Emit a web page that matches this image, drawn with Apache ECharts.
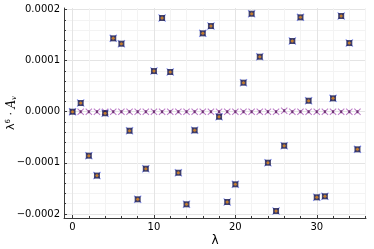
<!DOCTYPE html>
<html><head><meta charset="utf-8">
<script src="https://cdn.jsdelivr.net/npm/echarts@6/dist/echarts.min.js"></script>
<style>html,body{margin:0;padding:0;background:#fff}#c{width:374px;height:249px}</style>
</head><body><div id="c"></div>
<script>
const lambdas = [0,1,2,3,4,5,6,7,8,9,10,11,12,13,14,15,16,17,18,19,20,21,22,23,24,25,26,27,28,29,30,31,32,33,34,35];
const valuesA = [0, 1.7e-5, -8.6e-5, -1.25e-4, -3e-6, 1.436e-4, 1.331e-4, -3.72e-5, -1.714e-4, -1.115e-4,
  7.96e-5, 1.834e-4, 7.77e-5, -1.194e-4, -1.812e-4, -3.64e-5, 1.534e-4, 1.677e-4, -9.8e-6, -1.767e-4,
  -1.421e-4, 5.68e-5, 1.918e-4, 1.076e-4, -9.98e-5, -1.943e-4, -6.65e-5, 1.384e-4, 1.847e-4, 2.15e-5,
  -1.675e-4, -1.656e-4, 2.62e-5, 1.873e-4, 1.344e-4, -7.36e-5];
const valuesB = [0,0,0,0,0,0,0,0,0,0,0,0,0,0,0,0,0,0,0,0,0,0,0,0,0,0,2e-6,0,0,0,0,0,0,0,0,0];
const xTicks = [0, 10, 20, 30];
const xMinorTicks = [2,4,6,8,12,14,16,18,22,24,26,28,32,34,36];
const yTicks = [-0.0002, -0.0001, 0, 0.0001, 0.0002];
const yMinorTicks = [-0.00018,-0.00016,-0.00014,-0.00012,-0.00008,-0.00006,-0.00004,-0.00002,
  0.00002,0.00004,0.00006,0.00008,0.00012,0.00014,0.00016,0.00018];
const xRange = [-1.05, 36.05];
const yRange = [-0.000208, 0.000203];

const XPATH = 'path://M0,1L1,0L5,4L9,0L10,1L6,5L10,9L9,10L5,6L1,10L0,9L4,5Z';
const pairs = (ys) => lambdas.map((x, i) => [x, ys[i]]);
const font = 'DejaVu Sans';
const axisCol = '#3a3a3a';

const chart = echarts.init(document.getElementById('c'), null, {renderer: 'canvas'});
chart.setOption({
  animation: false,
  backgroundColor: '#fff',
  grid: {left: 64, right: 8, top: 8, bottom: 31, containLabel: false, outerBoundsMode: 'none'},
  xAxis: [{
    type: 'value', min: xRange[0], max: xRange[1],
    name: 'λ', nameLocation: 'middle', nameGap: 17, nameMoveOverlap: false,
    nameTextStyle: {fontFamily: font, fontSize: 12, color: '#000'},
    axisLine: {show: true, onZero: false, lineStyle: {color: axisCol, width: 1}},
    axisTick: {show: true, inside: true, length: 3, customValues: xTicks, lineStyle: {color: axisCol}},
    axisLabel: {show: true, customValues: xTicks, fontFamily: font, fontSize: 10, color: '#000', margin: 4},
    splitLine: {show: true, lineStyle: {color: '#e4e4e4', width: 1}}
  }, {
    type: 'value', min: xRange[0], max: xRange[1], position: 'bottom',
    axisLine: {show: false, onZero: false},
    axisTick: {show: true, inside: true, length: 2, customValues: xMinorTicks, lineStyle: {color: axisCol}},
    axisLabel: {show: false},
    splitLine: {show: true, lineStyle: {color: '#f3f3f3', width: 1}}
  }],
  yAxis: [{
    type: 'value', min: yRange[0], max: yRange[1],
    name: '{l|λ}{s|6}{l| · }{a|A}{v|v}', nameLocation: 'middle', nameGap: 46, nameRotate: 90,
    nameMoveOverlap: false,
    nameTextStyle: {
      fontFamily: font, fontSize: 11, color: '#000',
      rich: {
        l: {fontFamily: font, fontSize: 11, color: '#000'},
        s: {fontFamily: font, fontSize: 7, color: '#000', verticalAlign: 'top', padding: [0,0,6,0]},
        a: {fontFamily: 'DejaVu Serif', fontStyle: 'italic', fontSize: 12, color: '#000'},
        v: {fontFamily: 'DejaVu Serif', fontStyle: 'italic', fontSize: 7, color: '#000', verticalAlign: 'bottom', padding: [6,0,0,0]}
      }
    },
    axisLine: {show: true, onZero: false, lineStyle: {color: axisCol, width: 1}},
    axisTick: {show: true, inside: true, length: 3, customValues: yTicks, lineStyle: {color: axisCol}},
    axisLabel: {show: true, customValues: yTicks, fontFamily: font, fontSize: 10, color: '#000', margin: 4,
      formatter: v => v.toFixed(4).replace('-', '\u2212')},
    splitLine: {show: true, lineStyle: {color: '#e4e4e4', width: 1}}
  }, {
    type: 'value', min: yRange[0], max: yRange[1], position: 'left',
    axisLine: {show: false, onZero: false},
    axisTick: {show: true, inside: true, length: 2, customValues: yMinorTicks, lineStyle: {color: axisCol}},
    axisLabel: {show: false},
    splitLine: {show: true, lineStyle: {color: '#f3f3f3', width: 1}}
  }],
  series: [
    {type: 'scatter', xAxisIndex: 0, yAxisIndex: 0, data: pairs(valuesB), symbol: XPATH, symbolSize: 7,
      itemStyle: {color: '#b46cc0', opacity: 0.9}, z: 2},
    {type: 'scatter', xAxisIndex: 0, yAxisIndex: 0, data: pairs(valuesB), symbol: 'rect', symbolSize: [2, 3],
      itemStyle: {color: '#5a1f5e'}, z: 3},
    {type: 'scatter', xAxisIndex: 0, yAxisIndex: 0, data: pairs(valuesA), symbol: XPATH, symbolSize: 8,
      itemStyle: {color: '#6f80f5'}, z: 4},
    {type: 'scatter', xAxisIndex: 0, yAxisIndex: 0, data: pairs(valuesA), symbol: 'rect', symbolSize: 6,
      itemStyle: {color: '#16164a'}, z: 5},
    {type: 'scatter', xAxisIndex: 0, yAxisIndex: 0, data: pairs(valuesA), symbol: 'circle', symbolSize: 3,
      itemStyle: {color: '#e8901e'}, z: 6}
  ]
});
</script>
</body></html>
